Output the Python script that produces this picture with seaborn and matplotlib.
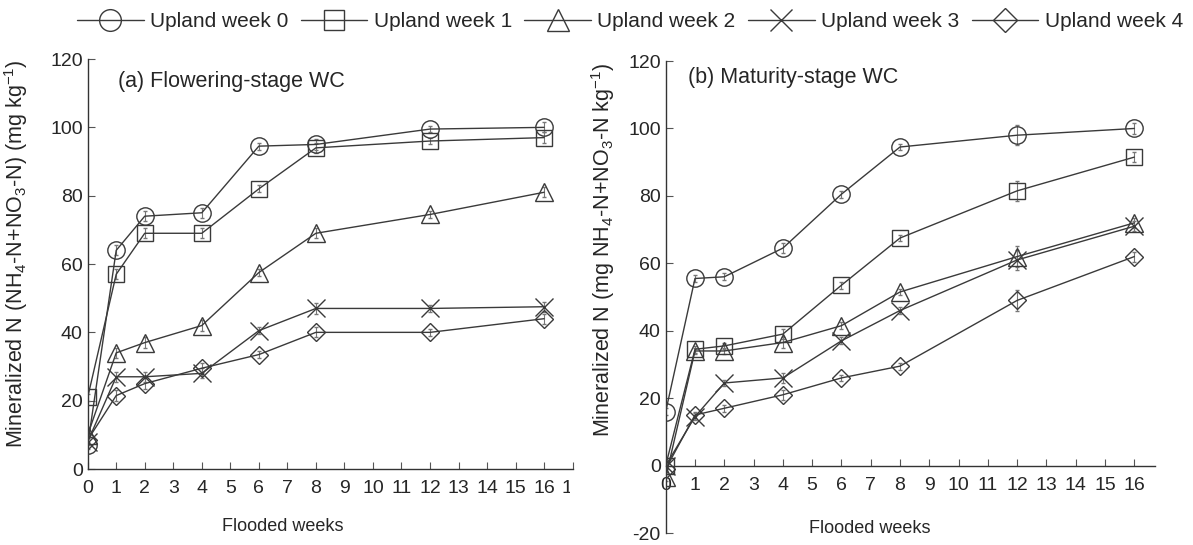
import numpy as np
import pandas as pd
import matplotlib
matplotlib.use("Agg")
import matplotlib.pyplot as plt
from matplotlib.lines import Line2D
from matplotlib.transforms import Bbox
import seaborn as sns

# Flooded weeks sampled
weeks = [0, 1, 2, 4, 6, 8, 12, 16]
labels = ["Upland week 0", "Upland week 1", "Upland week 2", "Upland week 3", "Upland week 4"]

# (a) Flowering-stage WC
flower_w0 = [7, 64, 74, 75, 94.5, 95, 99.5, 100]
flower_w1 = [21, 57, 69, 69, 82, 94, 96, 97]
flower_w2 = [10, 34, 37, 42, 57.5, 69, 74.5, 81]
flower_w3 = [8, 27, 27, 28, 40.5, 47, 47, 47.5]
flower_w4 = [8.5, 21.5, 25, 29.5, 33.5, 40, 40, 44]
flower_err = [1.0, 1.5, 1.5, 1.5, 1.0, 1.5, 1.0, 1.5]

# (b) Maturity-stage WC
mature_w0 = [16, 55.5, 56, 64.5, 80.5, 94.5, 98, 100]
mature_w1 = [0, 34.5, 35.5, 39, 53.5, 67.5, 81.5, 91.5]
mature_w2 = [-3.5, 34, 34, 36.5, 41.5, 51.5, 62, 72]
mature_w3 = [0, 14.5, 24.5, 26, 37, 46, 61, 71]
mature_w4 = [-1, 15, 17, 21, 26, 29.5, 49, 62]
mature_err = [1.0, 1.0, 1.0, 1.5, 1.0, 1.0, 3.0, 1.5]

x_ticks = list(range(0, 18))
markers = {"Upland week 0": "o", "Upland week 1": "s", "Upland week 2": "^",
           "Upland week 3": "x", "Upland week 4": "D"}
msizes = {"Upland week 0": 12.5, "Upland week 1": 12, "Upland week 2": 13,
          "Upland week 3": 13, "Upland week 4": 9.5}

sns.set_style("ticks")
plt.rcParams["font.family"] = ["Liberation Sans", "DejaVu Sans"]
plt.rcParams["mathtext.fontset"] = "custom"
plt.rcParams["mathtext.rm"] = "Liberation Sans"
plt.rcParams["mathtext.it"] = "Liberation Sans"
plt.rcParams["axes.unicode_minus"] = False
plt.rcParams["xtick.direction"] = "in"
plt.rcParams["ytick.direction"] = "in"

LINE = "#3a3a3a"


def make_df(series):
    rows = []
    for lab, vals in zip(labels, series):
        for w, v in zip(weeks, vals):
            rows.append({"week": w, "N": v, "treatment": lab})
    return pd.DataFrame(rows)


def draw(ax, series, err):
    df = make_df(series)
    for lab in labels:
        sub = df[df["treatment"] == lab]
        sns.lineplot(data=sub, x="week", y="N", ax=ax, color=LINE, lw=1.0,
                     marker=markers[lab], markersize=msizes[lab],
                     markerfacecolor="none", markeredgecolor=LINE,
                     markeredgewidth=1.0, legend=False, zorder=3)
        ax.errorbar(sub["week"], sub["N"], yerr=err, fmt="none",
                    ecolor="#777777", elinewidth=0.8, capsize=1.5, zorder=2)


fig = plt.figure(figsize=(11.93, 5.45), dpi=100)
ax1 = fig.add_axes([0.0735, 0.1394, 0.4065, 0.7523])
ax2 = fig.add_axes([0.558, 0.022, 0.41, 0.866])

draw(ax1, [flower_w0, flower_w1, flower_w2, flower_w3, flower_w4], flower_err)
draw(ax2, [mature_w0, mature_w1, mature_w2, mature_w3, mature_w4], mature_err)

# panel (a)
ax1.set_xlim(0, 17)
ax1.set_ylim(0, 120)
ax1.set_yticks([0, 20, 40, 60, 80, 100, 120])
ax1.set_xticks(x_ticks)
ax1.set_xticklabels([str(t) for t in x_ticks])
ax1.set_xlabel("")
ax1.set_ylabel("Mineralized N (NH$_4$-N+NO$_3$-N) (mg kg$^{-1}$)", fontsize=15.5)
ax1.yaxis.set_label_coords(-0.118, 0.525)
ax1.text(0.403, -0.14, "Flooded weeks", transform=ax1.transAxes,
         ha="center", va="center", fontsize=13)
ax1.text(0.062, 0.944, "(a) Flowering-stage WC", transform=ax1.transAxes,
         ha="left", va="center", fontsize=15.5)

# panel (b)
ax2.set_xlim(0, 16.7)
ax2.set_ylim(-20, 120)
ax2.set_yticks([-20, 0, 20, 40, 60, 80, 100, 120])
ax2.set_xticks(x_ticks[:17])
ax2.set_xticklabels([str(t) for t in x_ticks[:17]])
ax2.spines["bottom"].set_position(("data", 0))
ax2.set_xlabel("")
ax2.set_ylabel("Mineralized N (mg NH$_4$-N+NO$_3$-N kg$^{-1}$)", fontsize=15.5)
ax2.yaxis.set_label_coords(-0.1, 0.6)
ax2.text(0.418, 0.01, "Flooded weeks", transform=ax2.transAxes,
         ha="center", va="center", fontsize=13)
ax2.text(0.045, 0.966, "(b) Maturity-stage WC", transform=ax2.transAxes,
         ha="left", va="center", fontsize=15.5)

for ax in (ax1, ax2):
    sns.despine(ax=ax)
    ax.tick_params(labelsize=14, length=5, width=0.8, color="#555555")
    ax.tick_params(axis="x", pad=8)
    for sp in ("left", "bottom"):
        ax.spines[sp].set_color("#333333")
        ax.spines[sp].set_linewidth(1.0)

# the "17" label of panel (a) is cut off in the original figure
fig.canvas.draw()
last = ax1.get_xticklabels()[-1]
clip = Bbox.from_extents(0, 0, 0.4775 * fig.bbox.width, fig.bbox.height)
last.set_clip_box(clip)
last.set_clip_on(True)

handles = [Line2D([], [], color=LINE, lw=1.0, marker=markers[l], markersize=msizes[l] * 1.25,
                  markerfacecolor="none", markeredgecolor=LINE, markeredgewidth=1.0)
           for l in labels]
fig.legend(handles, labels, loc="center", bbox_to_anchor=(0.528, 0.96), ncol=5,
           frameon=False, fontsize=15, handlelength=3.2, handletextpad=0.3,
           columnspacing=0.6)

fig.savefig("out.png", dpi=100)
